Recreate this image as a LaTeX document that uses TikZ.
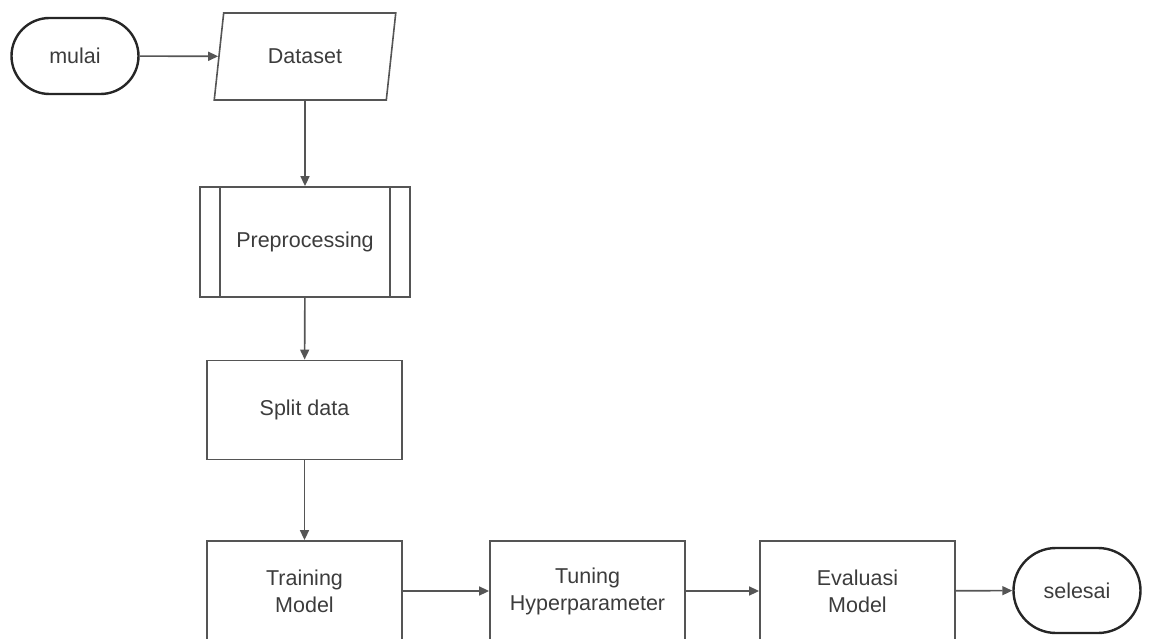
\documentclass[tikz,border=0pt]{standalone}
\usepackage{fontspec}
\setmainfont{Liberation Sans}
\usetikzlibrary{shapes.geometric,shapes.misc,arrows.meta}
\definecolor{lineGray}{RGB}{85,85,85}
\definecolor{textGray}{RGB}{60,60,60}
\tikzset{
  base/.style={text=textGray,font=\fontsize{21.5}{27}\selectfont,align=center,inner sep=0pt},
  terminal/.style={base,rounded rectangle,draw=black!85,line width=2.4pt,minimum width=127,minimum height=76},
  iobox/.style={base,trapezium,trapezium left angle=74,trapezium right angle=106,trapezium stretches=true,draw=lineGray,line width=1.6pt,minimum width=183,minimum height=87},
  procbox/.style={base,rectangle,draw=lineGray,line width=1.8pt,minimum width=195,minimum height=99},
  flow/.style={draw=lineGray,line width=1.6pt,-{Triangle[length=10pt,width=9pt]}}
}
\begin{document}
\begin{tikzpicture}[x=1pt,y=-1pt]
\useasboundingbox (0,0) rectangle (1152,639);
\node[terminal] (mulai) at (75,56) {mulai};
\node[iobox] (data) at (305,56.5) {Dataset};
\node[procbox,minimum width=210,minimum height=110] (pre) at (305,242) {Preprocessing};
\draw[lineGray,line width=1.8pt] ([xshift=21]pre.north west) -- ([xshift=21]pre.south west)
  ([xshift=-21]pre.north east) -- ([xshift=-21]pre.south east);
\node[procbox] (split) at (304.5,410) {Split data};
\node[procbox,minimum height=100] (train) at (304.5,591) {Training\\Model};
\node[procbox,minimum height=100] (tune) at (587.5,591) {Tuning\\Hyperparameter};
\node[procbox,minimum height=100] (eval) at (857.5,591) {Evaluasi\\Model};
\node[terminal,minimum height=85] (done) at (1077,590.5) {selesai};
% alur
\draw[flow] (mulai) -- (data);
\draw[flow] (data) -- (pre);
\draw[flow] (pre) -- (split);
\draw[flow] (split) -- (train);
\draw[flow] (train) -- (tune);
\draw[flow] (tune) -- (eval);
\draw[flow] (eval) -- (done);
\end{tikzpicture}
\end{document}
